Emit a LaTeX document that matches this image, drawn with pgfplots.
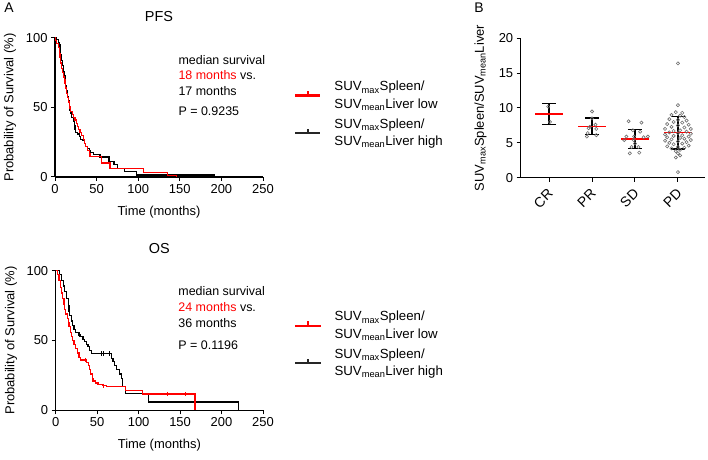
\documentclass[border=0pt]{standalone}
\usepackage{pgfplots}
\pgfplotsset{compat=1.18}
\usepackage{fontspec}
\setmainfont{Liberation Sans}
\definecolor{kmred}{RGB}{255,0,0}
\definecolor{dotgray}{RGB}{110,110,110}

\pgfplotstableread{
t s
0 100
1 98
2 96
4 93
5 89
6 86
7 82
8 78
9 75
10 72
11 70
12 67
13 64
14 60
15 57
16 54
17 51
18 49
19 47
21 45
22 43
24 41
26 38.5
27 36.5
28 34
30 32
32 30
34 27
35 24
37 22
39 19
41 16.5
42 14.6
56 10
66 6.3
106 3.1
135 1
146 0
}\pfsred

\pgfplotstableread{
t s
0 100
2 99
4 97
5 95
6 92
7 88
8 84
9 80
10 76
11 73
12 70
13 66
14 62
15 58
16 55
17 51
18 48
19 46
20 43
22 40
23 37
24 34
25 32
27 31
29 29
31 27
33 26
35 24
37 22
39 20.5
41 19
43 17.5
46 16
54 14.4
65 11
71 9
75 6.3
84 3.8
98 1.4
192 0
}\pfsblack

\pgfplotstableread{
t s
0 100
2 97
4 93
6 88
7 84
8 80
10 76
11 72
12 69
14 66
15 63
16 60
18 56
19 53
20 50
22 47
24 44
26 41
28 38
30 36
37 34
40 32
41 29
42 26
44 23
45 21
48 19.5
51 18.5
56 17.5
61 17
84 14
105 11.7
168 0
}\osred

\pgfplotstableread{
t s
0 100
5 97
7 93
9 89
11 85
13 80
15 75
16 71
17 68
19 64
20 61
22 58
24 56
28 54
30 52.7
33 51
35 49
37 47
39 45.8
41 43
43 40.8
67 37
69 35
71 32
73 29
77 26
79 23
81 17
84 12
112 6
220 0
}\osblack

\pgfplotstableread{
x y
-0.02 10.2
0.02 8.0
}\dataCR

\pgfplotstableread{
x y
1.0 9.5
1.0 8.5
1.08 7.6
0.95 7.3
1.1 7.0
0.92 7.1
0.9 6.4
0.88 5.9
1.1 6.1
}\dataPR

\pgfplotstableread{
x y
1.85 8.1
2.15 7.9
1.95 6.8
2.12 6.6
1.8 5.9
1.98 5.9
2.2 5.8
2.3 5.9
1.75 5.4
1.97 5.4
2.0 4.9
1.92 4.4
2.08 4.4
1.88 3.5
2.1 3.6
}\dataSD

\pgfplotstableread{
x y
3.0 16.4
3.0 10.4
2.95 9.4
3.1 9.3
2.85 9.0
3.05 8.9
3.15 8.7
2.8 8.4
3.0 8.3
3.2 8.2
2.9 8.0
3.1 7.9
2.75 7.7
3.25 7.6
3.0 7.5
2.85 7.3
3.15 7.2
2.7 7.0
3.3 7.0
3.05 6.8
2.9 6.7
3.2 6.6
2.8 6.5
3.0 6.4
3.3 6.3
2.7 6.2
3.1 6.1
2.9 6.0
3.25 5.9
2.75 5.8
3.05 5.7
3.15 5.6
2.85 5.5
3.3 5.4
2.7 5.3
3.0 5.2
3.2 5.1
2.8 5.0
3.1 4.9
2.9 4.8
3.25 4.6
2.75 4.5
3.0 4.4
3.15 4.3
2.85 4.2
3.05 4.0
2.95 3.8
3.0 3.5
3.05 3.2
2.95 2.9
3.0 0.8
}\dataPD

\pgfplotstableread{
x m e
0 9.14 1.5
1 7.38 1.2
2 5.55 1.4
3 6.45 2.35
}\stats

\pgfplotsset{
  km/.style={
    scale only axis, width=208bp, height=139bp,
    xmin=0, xmax=250, ymin=0, ymax=100,
    axis x line*=bottom, axis y line*=left,
    axis line style={line width=1.1bp,-},
    xtick={0,50,...,250}, ytick={0,50,100},
    tick align=outside, major tick length=4bp,
    every tick/.style={line width=1bp,black},
    tick label style={font=\fontsize{13}{15}\selectfont},
    label style={font=\fontsize{13}{15}\selectfont},
    /pgf/number format/assume math mode=true,
    xlabel={Time (months)},
    ylabel={Probability of Survival (\%)},
    xlabel style={at={(axis description cs:0.5,-0.25)}, anchor=center},
    ylabel style={at={(axis description cs:-0.216,0.5)}, anchor=center},
    title style={at={(axis description cs:0.5,1.115)}, anchor=center, font=\fontsize{14.5}{16}\selectfont},
    clip=false,
    legend style={draw=none, fill=none, inner sep=0pt,
      font=\fontsize{13.3}{17.4}\selectfont,
      nodes={inner sep=0pt},
      cells={align=left, anchor=west}, row sep=9bp, column sep=14bp},
  },
  redkm/.style={color=kmred, line width=1.2bp, const plot},
  blackkm/.style={color=black, line width=1.2bp, const plot},
  redleg/.style={color=kmred, line width=1.2bp,
    legend image code/.code={
      \fill[kmred] (0bp,-0.45bp) rectangle (24bp,0.45bp);
      \fill[kmred] (11.6bp,0bp) rectangle (12.4bp,3.8bp);
    }},
  blackleg/.style={color=black, line width=1.2bp,
    legend image code/.code={
      \fill[black!85] (0bp,-0.45bp) rectangle (24bp,0.45bp);
      \fill[black!85] (11.6bp,0bp) rectangle (12.4bp,3.8bp);
    }},
}

\begin{document}
\begin{tikzpicture}
\path[use as bounding box] (0,0) rectangle (708bp,460bp);
\node[font=\fontsize{14}{16}\selectfont] at (9bp,452bp) {A};
\node[font=\fontsize{14}{16}\selectfont] at (479bp,452bp) {B};

% PFS
\begin{axis}[km, at={(55bp,283bp)}, anchor=south west, title={PFS},
  legend style={at={(axis description cs:1.154,0.69)}, anchor=north west}]
\addlegendimage{redleg}
\addlegendentry{SUV\textsubscript{max}Spleen/\\SUV\textsubscript{mean}Liver low}
\addlegendimage{blackleg}
\addlegendentry{SUV\textsubscript{max}Spleen/\\SUV\textsubscript{mean}Liver high}
\addplot[blackkm, forget plot] table[x=t,y=s] {\pfsblack};
\addplot[redkm, forget plot] table[x=t,y=s] {\pfsred};
\node[anchor=west, font=\fontsize{12.5}{15}\selectfont] at (axis description cs:0.577,0.842) {median survival};
\node[anchor=west, font=\fontsize{12.5}{15}\selectfont] at (axis description cs:0.577,0.734) {\textcolor{kmred}{18 months} vs.};
\node[anchor=west, font=\fontsize{12.5}{15}\selectfont] at (axis description cs:0.577,0.621) {17 months};
\node[anchor=west, font=\fontsize{12.5}{15}\selectfont] at (axis description cs:0.577,0.47) {P = 0.9235};
\end{axis}

% OS
\begin{axis}[km, at={(55.7bp,49.7bp)}, anchor=south west, width=207.3bp, height=139.6bp, title={OS},
  legend style={at={(axis description cs:1.155,0.71)}, anchor=north west}]
\addlegendimage{redleg}
\addlegendentry{SUV\textsubscript{max}Spleen/\\SUV\textsubscript{mean}Liver low}
\addlegendimage{blackleg}
\addlegendentry{SUV\textsubscript{max}Spleen/\\SUV\textsubscript{mean}Liver high}
\addplot[blackkm, forget plot] table[x=t,y=s] {\osblack};
\addplot[redkm, forget plot] table[x=t,y=s] {\osred};
\addplot[forget plot, only marks, mark=|, mark size=2.2bp, black, mark options={line width=0.8bp}] coordinates {(55,40.8) (58,40.8) (65,40.8) (28,54)};
\addplot[forget plot, only marks, mark=|, mark size=2.2bp, kmred, mark options={line width=0.8bp}] coordinates {(135,11.7) (157,11.7) (58,17.5) (36,36)};
\node[anchor=west, font=\fontsize{12.5}{15}\selectfont] at (axis description cs:0.575,0.855) {median survival};
\node[anchor=west, font=\fontsize{12.5}{15}\selectfont] at (axis description cs:0.575,0.742) {\textcolor{kmred}{24 months} vs.};
\node[anchor=west, font=\fontsize{12.5}{15}\selectfont] at (axis description cs:0.575,0.627) {36 months};
\node[anchor=west, font=\fontsize{12.5}{15}\selectfont] at (axis description cs:0.575,0.468) {P = 0.1196};
\end{axis}

% B
\begin{axis}[at={(520.7bp,282.3bp)}, anchor=south west,
  scale only axis, width=184.3bp, height=139.4bp,
  xmin=-0.66, xmax=3.63, ymin=0, ymax=20,
  axis x line*=bottom, axis y line*=left,
  axis line style={line width=1.1bp,-},
  xtick={0,1,2,3},
  xticklabels={\rotatebox{45}{CR},\rotatebox{45}{PR},\rotatebox{45}{SD},\rotatebox{45}{PD}},
  ytick={0,5,10,15,20},
  tick align=outside, major tick length=4bp,
  every tick/.style={line width=1bp,black},
  yticklabel style={font=\fontsize{13}{15}\selectfont},
  /pgf/number format/assume math mode=true,
  ylabel={SUV\textsubscript{max}Spleen/SUV\textsubscript{mean}Liver},
  ylabel style={at={(axis description cs:-0.218,0.5)}, anchor=center, font=\fontsize{13}{15}\selectfont},
  clip=false,
  xticklabel style={anchor=north east, inner sep=1bp, xshift=6bp, yshift=-5bp, font=\fontsize{14}{16}\selectfont}]
\addplot[only marks, mark=o, mark size=1.6bp, dotgray, mark options={line width=0.6bp}] table[x=x,y=y] {\dataCR};
\addplot[only marks, mark=o, mark size=1.6bp, dotgray, mark options={line width=0.6bp}] table[x=x,y=y] {\dataPR};
\addplot[only marks, mark=o, mark size=1.6bp, dotgray, mark options={line width=0.6bp}] table[x=x,y=y] {\dataSD};
\addplot[only marks, mark=o, mark size=1.6bp, dotgray, mark options={line width=0.6bp}] table[x=x,y=y] {\dataPD};
\addplot[draw=none, mark=none, error bars/.cd, y dir=both, y explicit,
  error bar style={draw=black, line width=1.4bp},
  error mark=|, error mark options={draw=black, mark size=7bp, line width=1.4bp}]
  table[x=x, y=m, y error=e] {\stats};
\addplot[draw=none, mark=none, error bars/.cd, x dir=both, x fixed=0.33,
  error bar style={draw=kmred, line width=1.4bp}, error mark=none]
  table[x=x, y=m] {\stats};
\end{axis}
\end{tikzpicture}
\end{document}
